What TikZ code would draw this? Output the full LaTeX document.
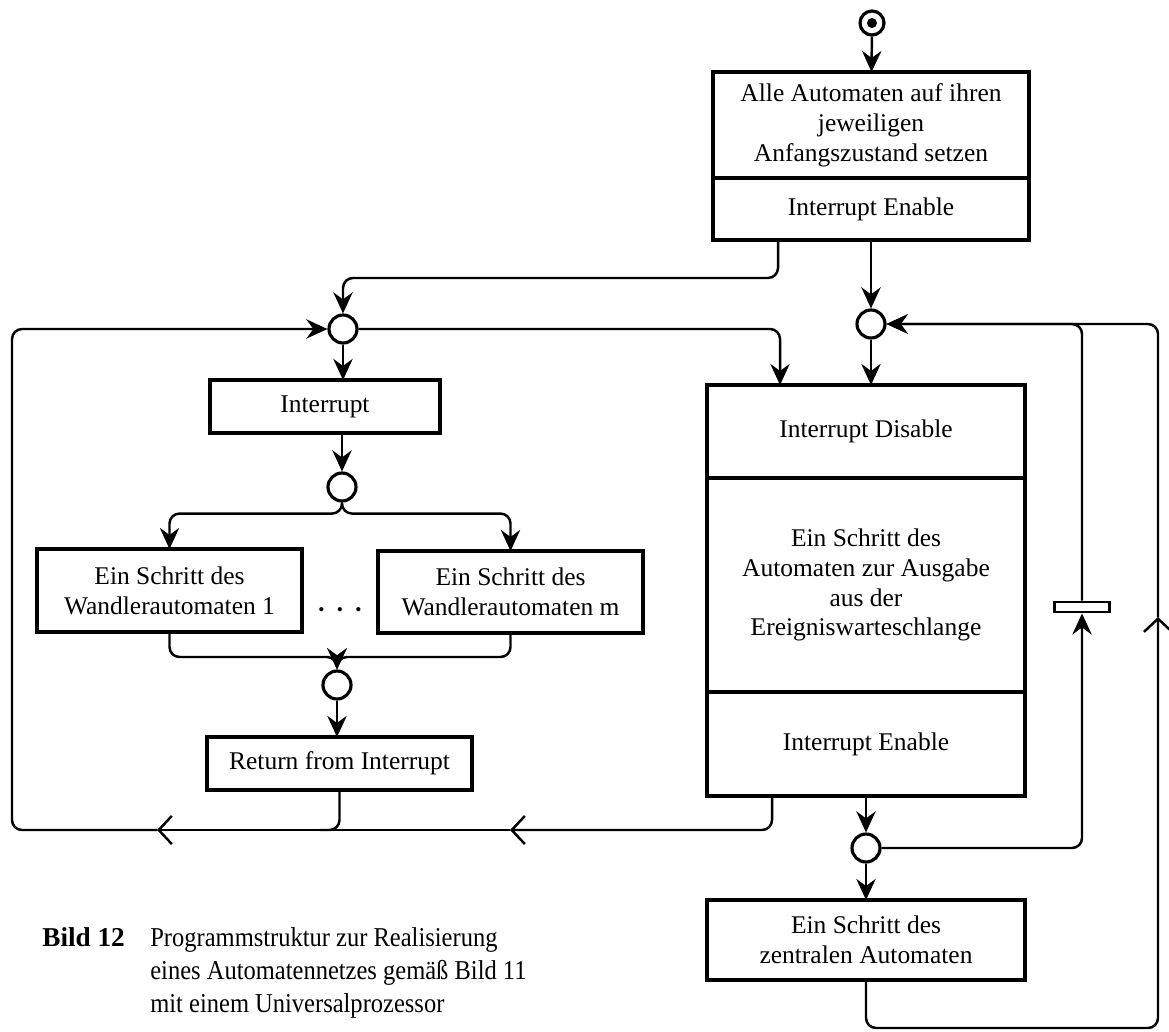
\documentclass[tikz,border=0pt]{standalone}
\usepackage{fontspec}
\setmainfont{Liberation Serif}
\newfontfamily\capserif[FakeStretch=0.9]{Liberation Serif}
\usepackage{tikz}
\usetikzlibrary{positioning, arrows.meta}
\newcommand\boxfont{\fontsize{14.5}{17}\selectfont}
\newcommand\capfont{\fontsize{15.5}{18.8}\selectfont}
\tikzset{
>={Stealth[length=12pt,width=11pt,inset=4pt]}, % bold filled arrow heads
block/.style={draw, line width=2pt, align=center, inner sep=0pt, outer sep=0pt, font=\boxfont}, % program steps
junction/.style={circle, draw, line width=1.8pt, minimum size=0.56cm, inner sep=0pt}, % the small circles
startnode/.style={circle, draw, line width=1.8pt, minimum size=0.48cm, inner sep=0pt,
  path picture={\fill (path picture bounding box.center) circle[radius=0.1cm];}},
flow/.style={->, line width=1.4pt, rounded corners=0.2cm}, % normal connector
back/.style={-{Straight Barb[length=7.5pt,width=16pt]}, line width=1.4pt, rounded corners=0.2cm}, % open arrow on the return lines
}

\begin{document}
\begin{tikzpicture}[x=0.02cm, y=-0.02cm]
                \useasboundingbox (0,0) rectangle (1169,1031);
                % right column
                \node[startnode] (start) at (872,23) {};
                \node[block, minimum width=6.32cm, minimum height=2.12cm] (init) at (871,125) {Alle Automaten auf ihren\\jeweiligen\\Anfangszustand setzen};
                \node[block, minimum width=6.32cm, minimum height=1.24cm, below=0pt of init] (ie1) {Interrupt Enable};
                \node[junction] (B) at (871,324) {};
                \node[block, minimum width=6.36cm, minimum height=1.86cm] (dis) at (866,431.5) {Interrupt Disable};
                \node[block, minimum width=6.36cm, minimum height=4.28cm, below=0pt of dis] (out) {Ein Schritt des\\Automaten zur Ausgabe\\aus der\\Ereigniswarteschlange};
                \node[block, minimum width=6.36cm, minimum height=2.08cm, below=0pt of out] (ie2) {Interrupt Enable};
                \node[junction] (C) at (866,848) {};
                \node[block, minimum width=6.36cm, minimum height=1.6cm] (central) at (866,940) {Ein Schritt des\\zentralen Automaten};
                \node[draw, line width=1.6pt, fill=white, minimum width=1.1cm, minimum height=0.2cm, inner sep=0pt] (bar) at (1082,607) {};
                % left column
                \node[junction] (A) at (343,329) {};
                \node[block, minimum width=4.6cm, minimum height=1.06cm] (irq) at (325,406.5) {Interrupt};
                \node[junction] (D) at (342,487) {};
                \node[block, minimum width=5.3cm, minimum height=1.66cm] (w1) at (169.5,590.5) {Ein Schritt des\\Wandlerautomaten 1};
                \node[block, minimum width=5.3cm, minimum height=1.64cm] (wm) at (510.5,592) {Ein Schritt des\\Wandlerautomaten m};
                \node[font=\fontsize{10}{12}\selectfont] (dots) at (340,612) {\textbullet\hspace{7pt}\textbullet\hspace{7pt}\textbullet};
                \node[junction] (E) at (337,685) {};
                \node[block, minimum width=5.3cm, minimum height=1.06cm] (ret) at (339.5,763.5) {Return from Interrupt};
                \coordinate (m1) at (510,830);
                \coordinate (m2) at (157,830);
                \coordinate (m3) at (1158,617);
                % caption
                \node[anchor=north west, inner sep=0pt, font=\capfont\bfseries] (fig) at (42,927) {Bild 12};
                \node[anchor=north west, inner sep=0pt, align=left, font=\capfont\capserif] (cap) at (150,927) {Programmstruktur zur Realisierung\\eines Automatennetzes gemäß Bild 11\\mit einem Universalprozessor};

                \draw[flow] (start) -- (init);
                \draw[flow] ([xshift=-1.86cm]ie1.south) -- ++(0,38) -| (A);
                \draw[flow] (ie1) -- (B);
                \draw[flow] (A) -- (A |- irq.north);
                \draw[flow] (A) -| ([xshift=-1.72cm]dis.north);
                \draw[flow] (B) -- (B |- dis.north);
                \draw[flow] (D |- irq.south) -- (D);
                \draw[flow] (D.south) -- ++(0,11) -| (w1);
                \draw[flow] (D.south) -- ++(0,11) -| (wm);
                \draw[flow] (w1.south) -- ++(0,25) -| (E);
                \draw[flow] (wm.south) -- ++(0,24) -| (E);
                \draw[flow] (E) -- (E |- ret.north);
                \draw[line width=1.4pt, rounded corners=0.2cm] (ret.south) -- ++(0,40) -- ++(-20,0);
                % back to the interrupt entry
                \draw[back] ([xshift=-1.88cm]ie2.south) |- (m1);
                \draw[back] (m1) -- (m2);
                \draw[flow] (m2) -- (12,830) |- (A);
                % right loops
                \draw[flow] (ie2) -- (C);
                \draw[flow] (C) -- (central);
                \draw[flow] (C) -| (bar.south);
                \draw[flow] (bar.north) |- (B);
                \draw[back] (central.south) -- ++(0,48) -| (m3);
                \draw[flow] (m3) |- (B);
                \end{tikzpicture}
\end{document}
